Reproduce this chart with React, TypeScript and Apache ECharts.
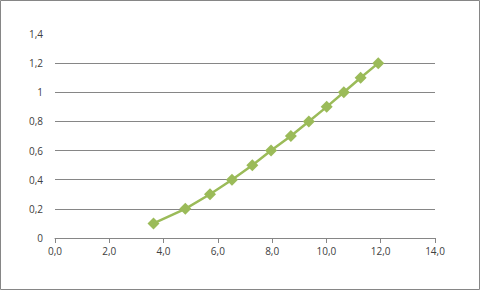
import React, { useEffect, useRef } from "react";
import * as echarts from "echarts";

const xValues = [3.63, 4.8, 5.71, 6.52, 7.27, 7.96, 8.69, 9.35, 10.01, 10.64, 11.26, 11.91];
const yValues = [0.1, 0.2, 0.3, 0.4, 0.5, 0.6, 0.7, 0.8, 0.9, 1.0, 1.1, 1.2];

const fmtX = (v: number) => v.toFixed(1).replace(".", ",");
const fmtY = (v: number) => {
  const r = Math.round(v * 10) / 10;
  return String(r).replace(".", ",");
};

export default function App() {
  const ref = useRef<HTMLDivElement>(null);
  useEffect(() => {
    document.body.style.margin = "0";
    const chart = echarts.init(ref.current!, null, { renderer: "svg" });
    const textStyle = { color: "#404040", fontFamily: "Open Sans", fontSize: 10 };
    chart.setOption({
      animation: false,
      backgroundColor: "#ffffff",
      grid: { left: 55, right: 46, top: 34, bottom: 53 },
      graphic: [
        {
          type: "rect",
          shape: { x: 0.5, y: 0.5, width: 479, height: 289 },
          style: { fill: "none", stroke: "#868686", lineWidth: 1 },
          silent: true,
        },
      ],
      xAxis: {
        type: "value",
        min: 0,
        max: 14,
        interval: 2,
        axisLine: { show: true, lineStyle: { color: "#868686", width: 1 } },
        axisTick: { show: true, length: 5, inside: false, lineStyle: { color: "#868686" } },
        axisLabel: { ...textStyle, margin: 8, formatter: (v: number) => fmtX(v) },
        splitLine: { show: false },
      },
      yAxis: {
        type: "value",
        min: 0,
        max: 1.4,
        interval: 0.2,
        axisLine: { show: false },
        axisTick: { show: false },
        axisLabel: { ...textStyle, margin: 12, formatter: (v: number) => fmtY(v) },
        splitLine: {
          show: true,
          lineStyle: {
            color: ["#868686", "#868686", "#868686", "#868686", "#868686", "#868686", "#868686", "rgba(0,0,0,0)"],
            width: 1,
          },
        },
      },
      series: [
        {
          type: "line",
          data: xValues.map((x, i) => [x, yValues[i]]),
          symbol: "diamond",
          symbolSize: 12,
          lineStyle: { color: "#9BBB59", width: 2.5 },
          itemStyle: { color: "#9BBB59" },
        },
      ],
    });
    return () => chart.dispose();
  }, []);
  return (
    <div
      ref={ref}
      style={{ position: "absolute", left: 0, top: 0, width: 481, height: 291 }}
    />
  );
}
